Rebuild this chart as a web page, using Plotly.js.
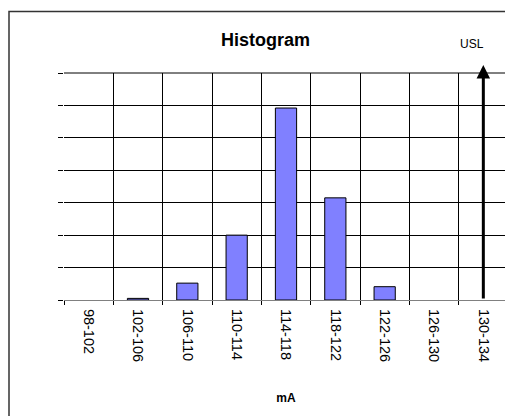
<!DOCTYPE html>
<html>
<head>
<meta charset="utf-8">
<script src="https://cdn.plot.ly/plotly-3.0.1.min.js"></script>
<style>
  html, body { margin: 0; padding: 0; overflow: hidden; background: #fff; }
  #chart { width: 540px; height: 440px; }
</style>
</head>
<body>
<div id="chart"></div>
<script>
// ---- data ----
const categories = ['98-102', '102-106', '106-110', '110-114', '114-118', '118-122', '122-126', '126-130', '130-134'];
const frequencies = [0, 0.05, 0.52, 2.0, 5.92, 3.15, 0.41, 0, 0];
const uslCategory = '130-134';
const uslLabel = 'USL';
const uslBase = 0;
const uslTop = 7.25;
const yMax = 7;

const FONT = 'Liberation Sans, Arial, sans-serif';

const W = 540, H = 440;
const L = 64, T = 73, R = 32, B = 140;
const plotW = W - L - R, plotH = H - T - B;
const px2paperX = p => (p - L) / plotW;
const px2paperY = p => (H - B - p) / plotH;

const traces = [{
  type: 'bar',
  x: categories,
  y: frequencies,
  marker: {
    color: '#8080FF',
    line: { color: '#000000', width: frequencies.map(v => v > 0 ? 1 : 0) }
  },
  hoverinfo: 'x+y'
}];

const layout = {
  width: W, height: H,
  margin: { l: L, r: R, t: T, b: B },
  paper_bgcolor: '#ffffff',
  plot_bgcolor: '#ffffff',
  showlegend: false,
  bargap: 0.57,
  font: { family: FONT, color: '#000' },
  title: {
    text: '<b>Histogram</b>',
    font: { family: FONT, size: 18, color: '#000' },
    x: 265.5 / W, xanchor: 'center', xref: 'container',
    y: 1 - 40 / H, yanchor: 'middle', yref: 'container'
  },
  xaxis: {
    type: 'category',
    categoryorder: 'array',
    categoryarray: categories,
    tickson: 'boundaries',
    tickangle: 90,
    tickfont: { family: FONT, size: 14.5, color: '#000' },
    ticklabelstandoff: 5,
    ticks: 'outside', ticklen: 4, tickcolor: '#000', tickwidth: 1,
    showgrid: true, gridcolor: '#000000', gridwidth: 1,
    showline: true, linecolor: '#808080', linewidth: 1,
    title: { text: '<b>mA</b>', font: { family: FONT, size: 12, color: '#000' }, standoff: 32 },
    automargin: false,
    fixedrange: true
  },
  yaxis: {
    range: [0, yMax],
    tick0: 0,
    dtick: 1,
    showticklabels: false,
    ticks: 'outside', ticklen: 5, tickcolor: '#000', tickwidth: 1,
    showgrid: true, gridcolor: '#000000', gridwidth: 1,
    zeroline: false,
    showline: false,
    automargin: false,
    fixedrange: true
  },
  shapes: [{
    type: 'rect', xref: 'paper', yref: 'paper',
    x0: px2paperX(9), x1: px2paperX(600),
    y0: px2paperY(600), y1: px2paperY(11.5),
    line: { color: '#333333', width: 1.5 },
    fillcolor: 'rgba(0,0,0,0)',
    layer: 'above'
  }, {
    type: 'line', xref: 'paper', yref: 'paper',
    x0: 0, x1: 1, y0: 1, y1: 1,
    line: { color: '#000000', width: 1 },
    layer: 'below'
  }],
  annotations: [{
    x: uslCategory, y: uslTop,
    ax: uslCategory, ay: uslBase,
    xref: 'x', yref: 'y', axref: 'x', ayref: 'y',
    text: '',
    showarrow: true,
    arrowhead: 2, arrowsize: 0.9, arrowwidth: 3, arrowcolor: '#000'
  }, {
    x: uslCategory, y: px2paperY(44),
    xref: 'x', yref: 'paper',
    xshift: -11,
    text: uslLabel,
    showarrow: false,
    font: { family: FONT, size: 12, color: '#000' },
    xanchor: 'center', yanchor: 'middle'
  }]
};

Plotly.newPlot('chart', traces, layout, { staticPlot: true, displayModeBar: false });
</script>
</body>
</html>
